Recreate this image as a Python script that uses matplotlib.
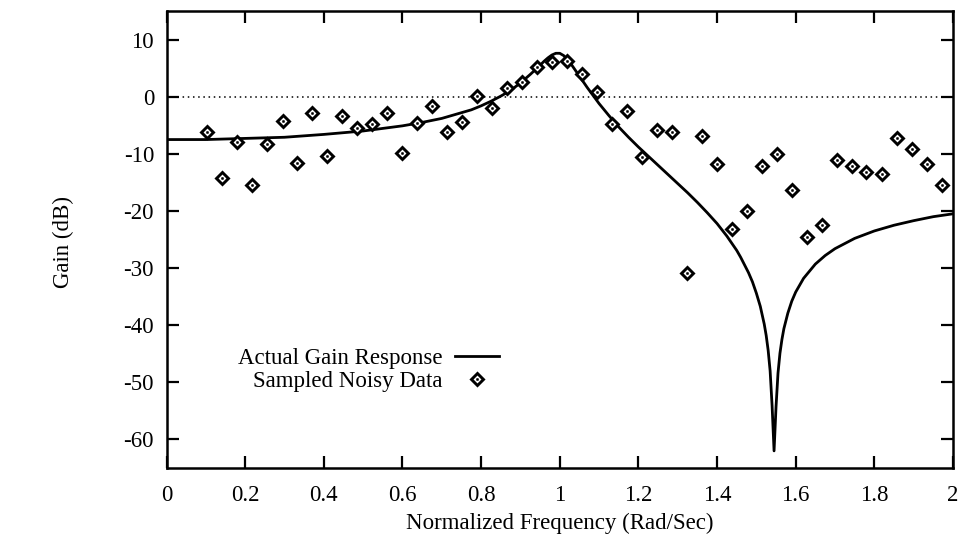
import matplotlib
matplotlib.use("Agg")
import matplotlib.pyplot as plt
from matplotlib.legend_handler import HandlerTuple

plt.rcParams['font.family'] = ['Liberation Serif', 'DejaVu Serif']
plt.rcParams['axes.unicode_minus'] = False

# Actual gain response
curve_freq = [0.0, 0.1, 0.2, 0.3, 0.4, 0.5, 0.6, 0.65, 0.7, 0.725, 0.75, 0.775, 0.8,
              0.825, 0.85, 0.875, 0.9, 0.925, 0.95, 0.96, 0.97, 0.98, 0.99, 1.0,
              1.01, 1.02, 1.03, 1.04, 1.05, 1.07, 1.1, 1.125, 1.15, 1.175, 1.2,
              1.225, 1.25, 1.275, 1.3, 1.325, 1.35, 1.375, 1.4, 1.425, 1.45, 1.46,
              1.48, 1.49, 1.5, 1.51, 1.52, 1.525, 1.53, 1.535, 1.54, 1.545, 1.55,
              1.555, 1.56, 1.565, 1.57, 1.58, 1.59, 1.6, 1.62, 1.65, 1.675, 1.7,
              1.75, 1.8, 1.85, 1.9, 1.95, 2.0]
curve_gain = [-7.5, -7.5, -7.3, -7.1, -6.6, -6.0, -5.1, -4.5, -3.8, -3.3, -2.8, -2.3, -1.6,
              -0.8, 0.1, 1.1, 2.4, 3.9, 5.5, 6.2, 6.8, 7.3, 7.6, 7.6,
              7.2, 6.5, 5.6, 4.6, 3.6, 1.6, -1.2, -3.3, -5.3, -7.1, -8.8,
              -10.4, -12.0, -13.6, -15.2, -16.8, -18.5, -20.3, -22.2, -24.4, -26.9, -28.1,
              -30.8, -32.4, -34.4, -36.7, -39.8, -41.8, -44.4, -48.0, -54.1, -62.0, -54.3,
              -48.4, -44.9, -42.5, -40.6, -37.9, -35.8, -34.2, -31.8, -29.3, -27.8, -26.6,
              -24.8, -23.5, -22.5, -21.7, -21.0, -20.5]

# Sampled noisy data
sample_freq = [0.104, 0.142, 0.180, 0.218, 0.256, 0.295, 0.333, 0.371, 0.409, 0.447,
               0.485, 0.523, 0.561, 0.599, 0.637, 0.676, 0.714, 0.752, 0.790, 0.828,
               0.866, 0.904, 0.942, 0.980, 1.018, 1.057, 1.095, 1.133, 1.171, 1.209,
               1.247, 1.285, 1.323, 1.361, 1.399, 1.438, 1.476, 1.514, 1.552, 1.590,
               1.628, 1.666, 1.704, 1.742, 1.780, 1.819, 1.857, 1.895, 1.933, 1.971]
sample_gain = [-6.1, -14.2, -7.9, -15.4, -8.2, -4.3, -11.6, -2.8, -10.4, -3.3,
               -5.5, -4.8, -2.8, -9.8, -4.6, -1.7, -6.1, -4.4, 0.2, -2.0,
               1.6, 2.6, 5.2, 6.1, 6.2, 4.0, 0.9, -4.8, -2.5, -10.5,
               -5.8, -6.2, -30.8, -6.8, -11.8, -23.2, -20.0, -12.2, -10.1, -16.4,
               -24.5, -22.4, -11.0, -12.1, -13.1, -13.5, -7.3, -9.1, -11.8, -15.4]

zero_level = 0
x_ticks = [0, 0.2, 0.4, 0.6, 0.8, 1, 1.2, 1.4, 1.6, 1.8, 2]
x_ticklabels = ['0', '0.2', '0.4', '0.6', '0.8', '1', '1.2', '1.4', '1.6', '1.8', '2']
y_ticks = [10, 0, -10, -20, -30, -40, -50, -60]
y_ticklabels = ['10', '0', '-10', '-20', '-30', '-40', '-50', '-60']

fs = 16.5
fig = plt.figure(figsize=(9.63, 5.35), dpi=100)
ax = fig.add_axes([0.1729, 0.1252, 0.9896 - 0.1729, 0.9794 - 0.1252])

ax.axhline(zero_level, color='black', lw=1.1, linestyle=(0, (1, 2.4)), zorder=1)
line, = ax.plot(curve_freq, curve_gain, color='black', lw=2.0, zorder=2,
                label='Actual Gain Response')
diam, = ax.plot(sample_freq, sample_gain, linestyle='none', marker='D', ms=6.4,
                mfc='white', mec='black', mew=2.1, zorder=3)
dots, = ax.plot(sample_freq, sample_gain, linestyle='none', marker='o', ms=1.7,
                mfc='black', mec='black', mew=0.3, zorder=4)

ax.set_xlim(0, 2)
ax.set_ylim(-65, 15)
ax.set_xticks(x_ticks)
ax.set_xticklabels(x_ticklabels)
ax.set_yticks(y_ticks)
ax.set_yticklabels(y_ticklabels)
ax.tick_params(direction='in', length=8.5, width=1.6, labelsize=fs,
               top=True, right=True)
ax.tick_params(axis='x', pad=12.5)
ax.tick_params(axis='y', pad=9)
for sp in ax.spines.values():
    sp.set_linewidth(1.8)

ax.set_xlabel('Normalized Frequency (Rad/Sec)', fontsize=fs)
ax.xaxis.set_label_coords(0.5, -0.099)
ax.set_ylabel('Gain (dB)', fontsize=fs)
ax.yaxis.set_label_coords(-0.118, 0.495)

leg = ax.legend([line, (diam, dots)], ['Actual Gain Response', 'Sampled Noisy Data'],
                handler_map={tuple: HandlerTuple(ndivide=1)},
                loc='center right', bbox_to_anchor=(0.423, 0.215),
                frameon=False, markerfirst=False, fontsize=fs,
                handlelength=1.92, handletextpad=0.57, labelspacing=0.1,
                borderpad=0.0, borderaxespad=0.0, numpoints=1)

fig.savefig('out.png', dpi=100)
